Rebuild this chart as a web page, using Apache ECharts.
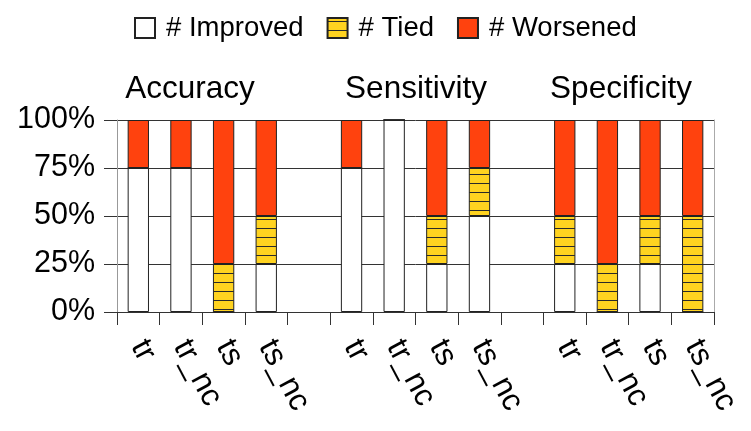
<!DOCTYPE html>
<html>
<head>
<meta charset="utf-8">
<script src="https://cdn.jsdelivr.net/npm/echarts@6/dist/echarts.min.js"></script>
<style>
html,body{margin:0;padding:0;background:#fff;}
#chart{width:751px;height:431px;}
</style>
</head>
<body>
<div id="chart"></div>
<script>
// Data
var categories = ['tr','tr_nc','ts','ts_nc','', 'tr','tr_nc','ts','ts_nc','', 'tr','tr_nc','ts','ts_nc'];
var groupTitles = ['Accuracy','Sensitivity','Specificity'];
var improved = [75, 75, 0, 25, '-', 75, 100, 25, 50, '-', 25, 0, 25, 0];
var tied     = [0, 0, 25, 25, '-', 0, 0, 25, 25, '-', 25, 25, 25, 50];
var worsened = [25, 25, 75, 50, '-', 25, 0, 50, 25, '-', 50, 75, 50, 50];
var yTicks = [0, 25, 50, 75, 100];
var seriesNames = ['# Improved', '# Tied', '# Worsened'];

var FONT = '"Liberation Sans", Arial, sans-serif';

// hatch pattern for Tied
var pc = document.createElement('canvas');
pc.width = 8; pc.height = 9;
var ctx = pc.getContext('2d');
ctx.fillStyle = '#ffd320';
ctx.fillRect(0, 0, 8, 9);
ctx.fillStyle = '#2a2a2a';
ctx.fillRect(0, 3, 8, 1);
var hatch = { image: pc, repeat: 'repeat' };

var chart = echarts.init(document.getElementById('chart'), null, {renderer: 'canvas'});

var titleX = [190, 416, 621];

chart.setOption({
  animation: false,
  backgroundColor: '#fff',
  textStyle: { fontFamily: FONT },
  legend: {
    top: 9,
    left: 129,
    itemWidth: 20,
    itemHeight: 20,
    itemGap: 23,
    textStyle: { fontSize: 27.5, color: '#000', fontFamily: FONT, padding: [0, 0, 0, 6] },
    data: seriesNames.map(function (n) { return { name: n, icon: 'rect' }; })
  },
  graphic: groupTitles.map(function (t, i) {
    return {
      type: 'text', x: titleX[i], y: 89,
      style: { text: t, fontSize: 31.5, fontFamily: FONT, fill: '#000', textAlign: 'center', textVerticalAlign: 'middle' }
    };
  }),
  grid: { left: 117, right: 37, top: 120, bottom: 119, containLabel: false },
  xAxis: {
    type: 'category',
    data: categories,
    boundaryGap: true,
    axisLine: { show: true, lineStyle: { color: '#333', width: 1 } },
    axisTick: { show: true, length: 13, interval: 0, lineStyle: { color: '#333' } },
    axisLabel: { interval: 0, rotate: -62, fontSize: 31.5, color: '#000', fontFamily: FONT, margin: 30 },
    splitLine: { show: false }
  },
  yAxis: [{
    type: 'value',
    min: yTicks[0], max: yTicks[yTicks.length - 1], interval: 25,
    axisLine: { show: true, lineStyle: { color: '#999' } },
    axisTick: { show: true, length: 13, lineStyle: { color: '#333' } },
    axisLabel: { formatter: '{value}%', fontSize: 30.5, color: '#000', fontFamily: FONT, margin: 22 },
    splitLine: { show: true, lineStyle: { color: '#333', width: 1 } }
  }, {
    type: 'value', position: 'right',
    min: 0, max: 100, interval: 25,
    axisLine: { show: true, lineStyle: { color: '#aaa' } },
    axisTick: { show: false }, axisLabel: { show: false }, splitLine: { show: false }
  }],
  series: [
    { name: seriesNames[0], type: 'bar', stack: 's', barWidth: '50%', data: improved,
      itemStyle: { color: '#ffffff', borderColor: '#222', borderWidth: 1 } },
    { name: seriesNames[1], type: 'bar', stack: 's', barWidth: '50%', data: tied,
      itemStyle: { color: hatch, borderColor: '#222', borderWidth: 1 } },
    { name: seriesNames[2], type: 'bar', stack: 's', barWidth: '50%', data: worsened,
      itemStyle: { color: '#ff420e', borderColor: '#222', borderWidth: 1 } }
  ]
});
</script>
</body>
</html>
